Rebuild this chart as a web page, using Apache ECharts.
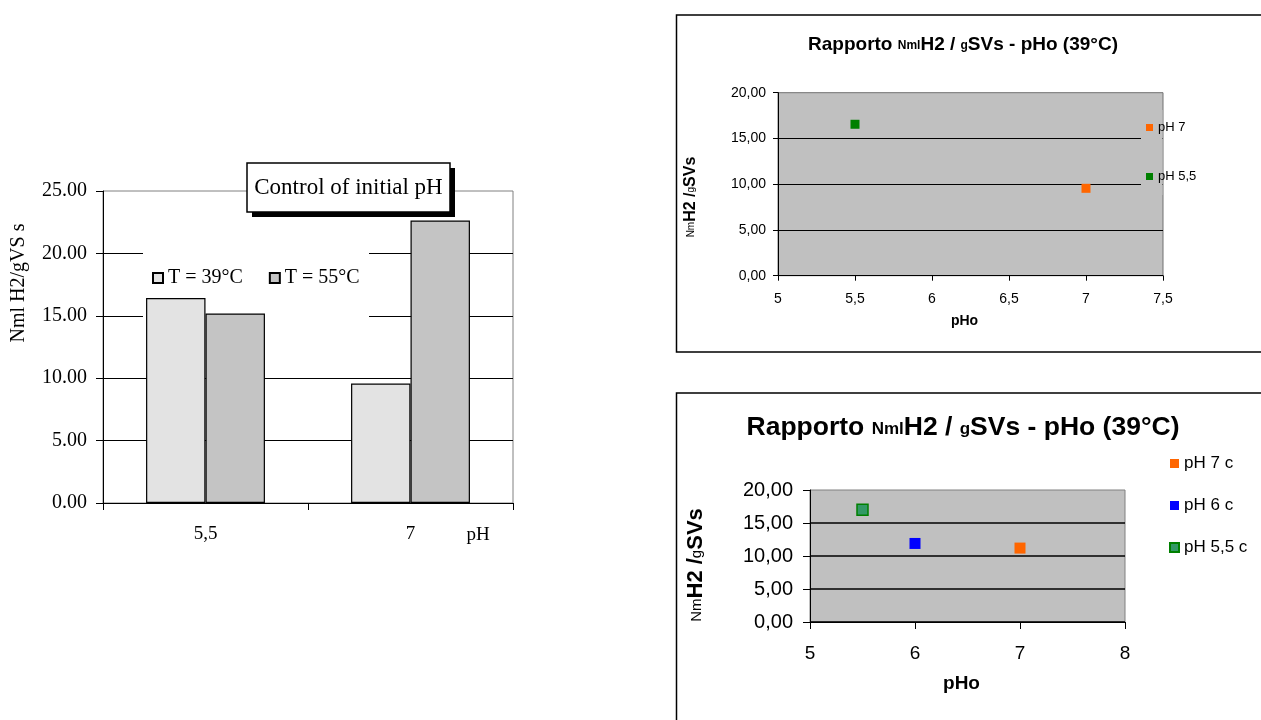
<!DOCTYPE html>
<html>
<head>
<meta charset="utf-8">
<script src="https://cdn.jsdelivr.net/npm/echarts@6/dist/echarts.min.js"></script>
<style>
html,body{margin:0;padding:0;background:#fff;}
#main{width:1261px;height:720px;}
</style>
</head>
<body>
<div id="main"></div>
<script>
// ---- Left bar chart data ----
const barCategories = ['5,5', '7'];
const barSeriesNames = ['T = 39°C', 'T = 55°C'];
const barT39 = [16.43, 9.57];
const barT55 = [15.19, 22.63];
const barTitle = 'Control of initial pH';
const barYName = 'Nml H2/gVS s';
const barXName = 'pH';

// ---- Top-right scatter data ----
const trSeriesNames = ['pH 7', 'pH 5,5'];
const trPH7 = [[7.0, 9.55]];
const trPH55 = [[5.5, 16.55]];

// ---- Bottom-right scatter data ----
const brSeriesNames = ['pH 7 c', 'pH 6 c', 'pH 5,5 c'];
const brPH7c = [[7.0, 11.2]];
const brPH6c = [[6.0, 11.9]];
const brPH55c = [[5.5, 17.0]];

const serif = 'Liberation Serif, Times New Roman, serif';
const sans = 'Liberation Sans, Arial, sans-serif';
const comma2 = v => v.toFixed(2).replace('.', ',');
const commaN = v => String(v).replace('.', ',');

const chart = echarts.init(document.getElementById('main'), null, {renderer: 'canvas'});

const raise = (big, small) => Math.round((big - small) * 0.45);
const titleRich = (big, small) => ({
  b: {fontFamily: sans, fontWeight: 'bold', fontSize: big, verticalAlign: 'bottom', fill: '#000', color: '#000'},
  s: {fontFamily: sans, fontWeight: 'bold', fontSize: small, verticalAlign: 'bottom', fill: '#000', color: '#000', padding: [0, 0, raise(big, small), 0]}
});
const titleText = '{b|Rapporto }{s|Nml}{b|H2 / }{s|g}{b|SVs - pHo (39°C)}';
const yNameText = '{s|Nm}{b|H2 /}{s|g}{b|SVs}';
const yNameRich = (big, small) => ({
  b: {fontFamily: sans, fontWeight: 'bold', fontSize: big, verticalAlign: 'bottom', color: '#000', fill: '#000'},
  s: {fontFamily: sans, fontWeight: 'normal', fontSize: small, verticalAlign: 'bottom', color: '#000', fill: '#000', padding: [0, 0, raise(big, small), 0]}
});

const option = {
  animation: false,
  backgroundColor: '#fff',
  grid: [
    {left: 103, top: 191, width: 410, height: 312, show: true, borderColor: '#808080', borderWidth: 1, backgroundColor: 'transparent'},
    {left: 778, top: 92.7, width: 385, height: 183, show: true, borderColor: '#707070', borderWidth: 1, backgroundColor: '#c0c0c0'},
    {left: 810, top: 490, width: 315, height: 132, show: true, borderColor: '#808080', borderWidth: 1, backgroundColor: '#c0c0c0'}
  ],
  legend: [
    {
      data: barSeriesNames, left: 147, top: 263, itemWidth: 10, itemHeight: 10, itemGap: 26,
      textStyle: {fontFamily: serif, fontSize: 20, color: '#000'}, icon: 'rect'
    },
    {
      data: trSeriesNames, orient: 'vertical', left: 1141, top: 116, itemWidth: 7, itemHeight: 7, itemGap: 36,
      textStyle: {fontFamily: sans, fontSize: 13, color: '#000'}, icon: 'rect'
    },
    {
      data: brSeriesNames, orient: 'vertical', left: 1164, top: 450, itemWidth: 9, itemHeight: 9, itemGap: 25,
      textStyle: {fontFamily: sans, fontSize: 17, color: '#000'}, icon: 'rect'
    }
  ],
  xAxis: [
    {
      gridIndex: 0, type: 'category', data: barCategories, boundaryGap: true,
      axisLine: {lineStyle: {color: '#000', width: 1}},
      axisTick: {show: true, length: 7, lineStyle: {color: '#000'}},
      axisLabel: {fontFamily: serif, fontSize: 19, color: '#000', margin: 22},
      splitLine: {show: false}
    },
    {
      gridIndex: 1, type: 'value', min: 5, max: 7.5, interval: 0.5,
      name: 'pHo', nameLocation: 'middle', nameGap: 38,
      nameTextStyle: {fontFamily: sans, fontWeight: 'bold', fontSize: 14, color: '#000', padding: [0, 12, 0, 0]},
      axisLine: {onZero: false, lineStyle: {color: '#000'}},
      axisTick: {show: true, length: 5, lineStyle: {color: '#000'}},
      axisLabel: {fontFamily: sans, fontSize: 14, color: '#000', margin: 16, formatter: commaN},
      splitLine: {show: false}
    },
    {
      gridIndex: 2, type: 'value', min: 5, max: 8, interval: 1,
      name: 'pHo', nameLocation: 'middle', nameGap: 52,
      nameTextStyle: {fontFamily: sans, fontWeight: 'bold', fontSize: 19, color: '#000', padding: [0, 12, 0, 0]},
      axisLine: {onZero: false, lineStyle: {color: '#000'}},
      axisTick: {show: true, length: 7, lineStyle: {color: '#000'}},
      axisLabel: {fontFamily: sans, fontSize: 19, color: '#000', margin: 22, formatter: commaN},
      splitLine: {show: false}
    }
  ],
  yAxis: [
    {
      gridIndex: 0, type: 'value', min: 0, max: 25, interval: 5,
      axisLine: {show: true, lineStyle: {color: '#000'}},
      axisTick: {show: true, length: 7, lineStyle: {color: '#000'}},
      axisLabel: {fontFamily: serif, fontSize: 20, color: '#000', margin: 16, formatter: v => v.toFixed(2)},
      splitLine: {show: true, showMaxLine: false, lineStyle: {color: '#000', width: 1}}
    },
    {
      gridIndex: 1, type: 'value', min: 0, max: 20, interval: 5,
      axisLine: {show: true, lineStyle: {color: '#000'}},
      axisTick: {show: true, length: 5, lineStyle: {color: '#000'}},
      axisLabel: {fontFamily: sans, fontSize: 14, color: '#000', margin: 12, formatter: comma2},
      splitLine: {show: true, showMaxLine: false, lineStyle: {color: '#000', width: 1}}
    },
    {
      gridIndex: 2, type: 'value', min: 0, max: 20, interval: 5,
      axisLine: {show: true, lineStyle: {color: '#000'}},
      axisTick: {show: true, length: 7, lineStyle: {color: '#000'}},
      axisLabel: {fontFamily: sans, fontSize: 20, color: '#000', margin: 17, formatter: comma2},
      splitLine: {show: true, showMaxLine: false, lineStyle: {color: '#000', width: 1.5}}
    }
  ],
  series: [
    {
      name: barSeriesNames[0], type: 'bar', xAxisIndex: 0, yAxisIndex: 0, data: barT39,
      barGap: '0%', barCategoryGap: '42%',
      itemStyle: {color: '#e3e3e3', borderColor: '#000', borderWidth: 1.2}
    },
    {
      name: barSeriesNames[1], type: 'bar', xAxisIndex: 0, yAxisIndex: 0, data: barT55,
      barGap: '0%', barCategoryGap: '42%',
      itemStyle: {color: '#c4c4c4', borderColor: '#000', borderWidth: 1.2}
    },
    {
      name: trSeriesNames[0], type: 'scatter', xAxisIndex: 1, yAxisIndex: 1, data: trPH7,
      symbol: 'rect', symbolSize: 9, itemStyle: {color: '#ff6600', opacity: 1}
    },
    {
      name: trSeriesNames[1], type: 'scatter', xAxisIndex: 1, yAxisIndex: 1, data: trPH55,
      symbol: 'rect', symbolSize: 9, itemStyle: {color: '#008000', opacity: 1}
    },
    {
      name: brSeriesNames[0], type: 'scatter', xAxisIndex: 2, yAxisIndex: 2, data: brPH7c,
      symbol: 'rect', symbolSize: 11, itemStyle: {color: '#ff6600', opacity: 1}
    },
    {
      name: brSeriesNames[1], type: 'scatter', xAxisIndex: 2, yAxisIndex: 2, data: brPH6c,
      symbol: 'rect', symbolSize: 11, itemStyle: {color: '#0000ff', opacity: 1}
    },
    {
      name: brSeriesNames[2], type: 'scatter', xAxisIndex: 2, yAxisIndex: 2, data: brPH55c,
      symbol: 'rect', symbolSize: 11, itemStyle: {color: '#339966', borderColor: '#008000', borderWidth: 1.5, opacity: 1}
    }
  ],
  graphic: [
    // left chart: legend background (hides gridlines)
    {type: 'rect', z: 1, shape: {x: 143, y: 240, width: 226, height: 85}, style: {fill: '#fff'}},
    // left chart: title box with shadow
    {type: 'rect', z: 5, shape: {x: 252, y: 168, width: 203, height: 49}, style: {fill: '#000'}},
    {type: 'rect', z: 6, shape: {x: 247, y: 163, width: 203, height: 49}, style: {fill: '#fff', stroke: '#000', lineWidth: 1.5}},
    {type: 'text', z: 7, x: 348.5, y: 188, style: {text: barTitle, font: '23px ' + serif, fill: '#000', align: 'center', verticalAlign: 'middle'}},
    // left chart: y name and x name
    {type: 'text', z: 7, x: 19, y: 283, rotation: Math.PI / 2, style: {text: barYName, font: '20px ' + serif, fill: '#000', align: 'center', verticalAlign: 'middle'}},
    {type: 'text', z: 7, x: 478, y: 535, style: {text: barXName, font: '19px ' + serif, fill: '#000', align: 'center', verticalAlign: 'middle'}},
    // top-right frame
    {type: 'rect', z: 0, shape: {x: 676.5, y: 15, width: 620, height: 337}, style: {fill: 'none', stroke: '#000', lineWidth: 1.5}},
    // top-right: region behind legend (gridlines stop short)
    {type: 'rect', z: 1, shape: {x: 1141, y: 110, width: 21.5, height: 85}, style: {fill: '#c0c0c0'}},
    {type: 'text', z: 7, x: 963, y: 45, style: {text: titleText, rich: titleRich(19, 12), align: 'center', verticalAlign: 'middle', fill: '#000'}},
    {type: 'text', z: 7, x: 691, y: 197, rotation: Math.PI / 2, style: {text: yNameText, rich: yNameRich(16, 10), align: 'center', verticalAlign: 'middle', fill: '#000'}},
    // bottom-right frame
    {type: 'rect', z: 0, shape: {x: 676.5, y: 393, width: 620, height: 400}, style: {fill: 'none', stroke: '#000', lineWidth: 1.5}},
    {type: 'text', z: 7, x: 963, y: 428, style: {text: titleText, rich: titleRich(26.5, 17), align: 'center', verticalAlign: 'middle', fill: '#000'}},
    {type: 'text', z: 7, x: 696, y: 565, rotation: Math.PI / 2, style: {text: yNameText, rich: yNameRich(22, 15), align: 'center', verticalAlign: 'middle', fill: '#000'}}
  ]
};
chart.setOption(option);
</script>
</body>
</html>
